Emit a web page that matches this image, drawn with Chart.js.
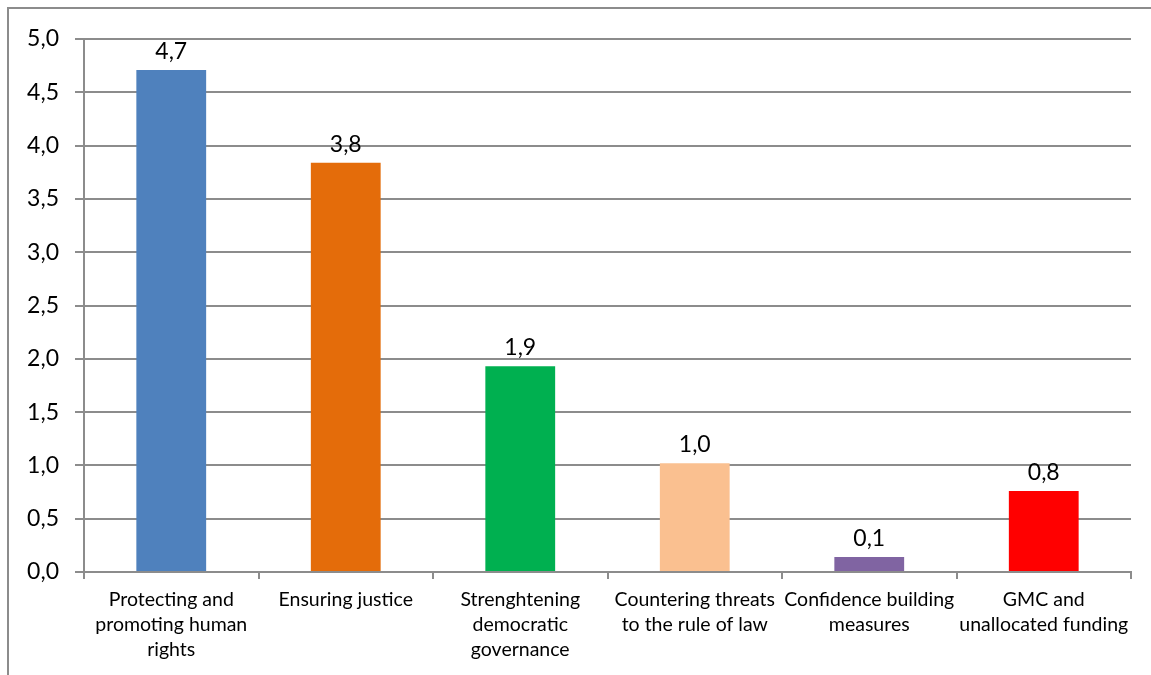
<!DOCTYPE html>
<html>
<head>
<meta charset="utf-8">
<style>
  html, body { margin: 0; padding: 0; background: #fff; }
  #wrap { width: 1151px; height: 675px; position: relative; }
</style>
<script src="https://cdn.jsdelivr.net/npm/chart.js@4/dist/chart.umd.min.js"></script>
</head>
<body>
<div id="wrap"><canvas id="myChart" width="1151" height="675"></canvas></div>
<script>
const categories = [
  ['Protecting and', 'promoting human', 'rights'],
  ['Ensuring justice'],
  ['Strenghtening', 'democratic', 'governance'],
  ['Countering threats', 'to the rule of law'],
  ['Confidence building', 'measures'],
  ['GMC and', 'unallocated funding']
];
const values = [4.71, 3.84, 1.93, 1.02, 0.14, 0.76];
const barColors = ['#4F81BD', '#E46C0A', '#00B050', '#FAC090', '#8064A2', '#FF0000'];
const yTicks = [0, 0.5, 1, 1.5, 2, 2.5, 3, 3.5, 4, 4.5, 5];

const fontFamily = 'Lato, "Open Sans", sans-serif';
const comma = v => v.toFixed(1).replace('.', ',');

// frame around the chart (top + left lines)
const framePlugin = {
  id: 'frame',
  beforeDraw(chart) {
    const ctx = chart.ctx;
    ctx.save();
    ctx.strokeStyle = '#8c8c8c';
    ctx.lineWidth = 2;
    ctx.beginPath();
    ctx.moveTo(1151, 8);
    ctx.lineTo(8, 8);
    ctx.lineTo(8, 675);
    ctx.stroke();
    ctx.restore();
  }
};

// value labels above bars
const valueLabels = {
  id: 'valueLabels',
  afterDatasetsDraw(chart) {
    const ctx = chart.ctx;
    const meta = chart.getDatasetMeta(0);
    ctx.save();
    ctx.font = '23px ' + fontFamily;
    ctx.fillStyle = '#000';
    ctx.textAlign = 'center';
    ctx.textBaseline = 'bottom';
    meta.data.forEach((bar, i) => {
      ctx.fillText(comma(values[i]), bar.x, bar.y - 7);
    });
    ctx.restore();
  }
};

new Chart(document.getElementById('myChart').getContext('2d'), {
  type: 'bar',
  data: {
    labels: categories,
    datasets: [{
      data: values,
      backgroundColor: barColors,
      barPercentage: 0.4,
      categoryPercentage: 1.0
    }]
  },
  options: {
    responsive: false,
    animation: false,
    events: [],
    layout: { padding: { left: 0, right: 20, top: 39, bottom: 0 } },
    plugins: { legend: { display: false }, tooltip: { enabled: false } },
    scales: {
      x: {
        offset: true,
        grid: { offset: true, drawOnChartArea: false, drawTicks: true, tickLength: 7, color: '#8c8c8c', lineWidth: 2 },
        border: { color: '#8c8c8c', width: 2 },
        ticks: { color: '#000', font: { family: fontFamily, size: 19.5, lineHeight: 1.28 }, padding: 8, maxRotation: 0, autoSkip: false },
        afterFit(scale) { scale.height = 103; }
      },
      y: {
        min: 0,
        max: 5,
        afterBuildTicks(scale) { scale.ticks = yTicks.map(v => ({ value: v })); },
        grid: { color: '#8c8c8c', lineWidth: 2, tickLength: 9 },
        border: { color: '#8c8c8c', width: 2 },
        ticks: { color: '#000', font: { family: fontFamily, size: 23 }, padding: 16, callback: v => comma(v) },
        afterFit(scale) { scale.width = 84; }
      }
    }
  },
  plugins: [framePlugin, valueLabels]
});
</script>
</body>
</html>
